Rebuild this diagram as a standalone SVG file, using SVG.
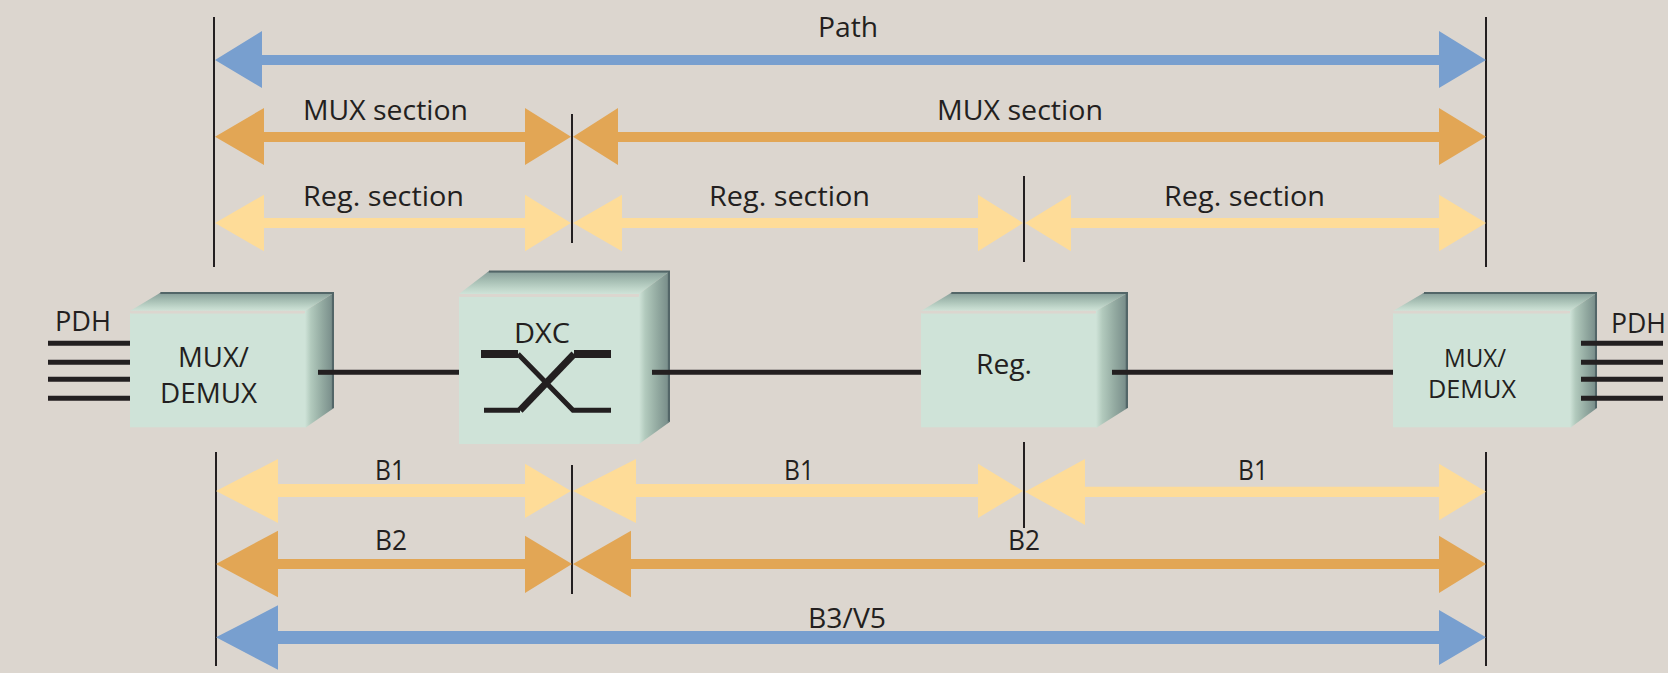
<svg xmlns="http://www.w3.org/2000/svg" width="1668" height="673" viewBox="0 0 1668 673">
<style>
text{font-family:"Open Sans","Noto Sans","Liberation Sans",sans-serif;font-size:28px;fill:#231f20}
.blue{fill:#789fcf}.orange{fill:#e2a655}.yellow{fill:#fedc98}
.v{stroke:#231f20;stroke-width:2;fill:none}
.w{stroke:#231f20;stroke-width:5;fill:none}
.front{fill:#cfe3d8}.strip{fill:#dcd6cf}.top{fill:url(#gt)}.side{fill:url(#gs)}
.edge{stroke:#536668;stroke-width:2;fill:none}
</style>
<defs>
<linearGradient id="gt" x1="0" y1="0" x2="0" y2="1"><stop offset="0" stop-color="#5f7375"/><stop offset=".1" stop-color="#8ea59f"/><stop offset=".45" stop-color="#a8c0b5"/><stop offset=".8" stop-color="#c2d8cc"/><stop offset="1" stop-color="#cfe3d8"/></linearGradient>
<linearGradient id="gs" x1="0" y1="0" x2="1" y2="0"><stop offset="0" stop-color="#cfe3d8"/><stop offset=".2" stop-color="#b2cabd"/><stop offset=".6" stop-color="#92a9a0"/><stop offset=".9" stop-color="#7c918d"/><stop offset="1" stop-color="#536668"/></linearGradient>
</defs>
<rect width="1668" height="673" fill="#dcd6cf"/>
<g id="connectors">
<g id="guides">
<path class="v" d="M214 17V267M572 114V243M1024 176V262M1486 17V267M216 452V666M572 465V594M1024 442V528M1486 452V666"/>
</g>
<g id="links">
<path class="w" d="M318 372.3H459M652 372.3H921M1112 372.3H1393"/>
<path class="w" d="M48 343.3H130M48 362.3H130M48 379.3H130M48 398.3H130M1581 343.3H1663M1581 362.3H1663M1581 379.3H1663M1581 398.3H1663"/>
</g>
<g id="arrows">
<polygon class="blue" points="215,60 262,31 262,55 1439,55 1439,31 1486,60 1439,88 1439,65 262,65 262,88"/>
<polygon class="orange" points="215,136.7 264,108 264,132 525,132 525,108 571,136.7 525,165 525,142 264,142 264,165"/>
<polygon class="orange" points="573,136.7 618,108 618,132 1439,132 1439,108 1486,136.7 1439,165 1439,142 618,142 618,165"/>
<polygon class="yellow" points="215,223 264,194.7 264,218 525,218 525,194.7 571,223 525,251.3 525,228 264,228 264,251.3"/>
<polygon class="yellow" points="573,223 622,194.7 622,218 978,218 978,194.7 1023,223 978,251.3 978,228 622,228 622,251.3"/>
<polygon class="yellow" points="1025,223 1071,194.7 1071,218 1439,218 1439,194.7 1486,223 1439,251.3 1439,228 1071,228 1071,251.3"/>
<polygon class="yellow" points="216,491 278,459 278,484 525,484 525,463.7 571,491 525,518 525,497 278,497 278,523"/>
<polygon class="yellow" points="573,491 636,459 636,484 978,484 978,463.7 1023,491 978,518 978,497 636,497 636,523"/>
<polygon class="yellow" points="1025,491.7 1085,459 1085,486.7 1439,486.7 1439,463.7 1486,491.7 1439,520.3 1439,497 1085,497 1085,525"/>
<polygon class="orange" points="216,564 278,530.7 278,559 525,559 525,535.7 572,564 525,593 525,569 278,569 278,597.3"/>
<polygon class="orange" points="573,564 631,530.7 631,559 1439,559 1439,535.7 1486,564 1439,593 1439,569 631,569 631,597.3"/>
<polygon class="blue" points="216,637.3 278,605.3 278,631 1439,631 1439,610 1486,637.3 1439,665 1439,644 278,644 278,669.7"/>
</g>
<g id="labels">
<text x="818" y="36.500" textLength="60" lengthAdjust="spacingAndGlyphs">Path</text>
<text x="303" y="120" textLength="165" lengthAdjust="spacingAndGlyphs">MUX section</text>
<text x="937" y="120" textLength="166" lengthAdjust="spacingAndGlyphs">MUX section</text>
<text x="303" y="206" textLength="161" lengthAdjust="spacingAndGlyphs">Reg. section</text>
<text x="709" y="206" textLength="161" lengthAdjust="spacingAndGlyphs">Reg. section</text>
<text x="1164" y="206" textLength="161" lengthAdjust="spacingAndGlyphs">Reg. section</text>
<text x="375" y="480" textLength="30" lengthAdjust="spacingAndGlyphs">B1</text>
<text x="784" y="480" textLength="30" lengthAdjust="spacingAndGlyphs">B1</text>
<text x="1238" y="480" textLength="30" lengthAdjust="spacingAndGlyphs">B1</text>
<text x="375" y="550" textLength="32" lengthAdjust="spacingAndGlyphs">B2</text>
<text x="1008" y="550" textLength="32" lengthAdjust="spacingAndGlyphs">B2</text>
<text x="808" y="628" textLength="78" lengthAdjust="spacingAndGlyphs">B3/V5</text>
<text x="55" y="331" textLength="56" lengthAdjust="spacingAndGlyphs">PDH</text>
<text x="1611" y="333" textLength="55" lengthAdjust="spacingAndGlyphs">PDH</text>
</g>
</g>
<g id="mux-left">
<polygon class="top" points="130,311 160.400,292.700 334,292.700 305,311"/>
<polygon class="side" points="305,311 334,292.700 334,408 305,428"/>
<path class="edge" d="M160.400 293H333V408"/>
<rect class="front" x="130" y="313.300" width="175" height="114"/>
<rect class="strip" x="131" y="310.700" width="173" height="2.600"/>
<text x="178" y="367" textLength="71" lengthAdjust="spacingAndGlyphs">MUX/</text>
<text x="160" y="403" textLength="97" lengthAdjust="spacingAndGlyphs">DEMUX</text>
<path class="w" d="M318 372.3H334"/>
</g>
<g id="dxc">
<polygon class="top" points="459,294 489,271 670,271 639,294"/>
<polygon class="side" points="639,294 670,271 670,421.700 639,444"/>
<path class="edge" d="M489 271.500H669V421"/>
<rect class="front" x="459" y="296.700" width="180" height="147.300"/>
<rect class="strip" x="460" y="294" width="178" height="2.700"/>
<text x="514" y="343" textLength="56" lengthAdjust="spacingAndGlyphs">DXC</text>
<path d="M481 354H518M574 354H611" fill="none" stroke="#231f20" stroke-width="8"/>
<path class="w" d="M484 410.300H520M518 354L573 410.300H611"/>
<path d="M520 410.300L574 354" fill="none" stroke="#231f20" stroke-width="7"/>
<path class="w" d="M652 372.3H670"/>
</g>
<g id="reg">
<polygon class="top" points="921,311 951.400,292.700 1127.700,292.700 1096,311"/>
<polygon class="side" points="1096,311 1127.700,292.700 1127.700,408 1096,428"/>
<path class="edge" d="M951.400 293H1127V408"/>
<rect class="front" x="921" y="313.300" width="175" height="114"/>
<rect class="strip" x="922" y="310.700" width="173" height="2.600"/>
<text x="976" y="374" textLength="56" lengthAdjust="spacingAndGlyphs">Reg.</text>
<path class="w" d="M1112 372.3H1128"/>
</g>
<g id="mux-right">
<polygon class="top" points="1393,311 1424,292.700 1597,292.700 1570,311"/>
<polygon class="side" points="1570,311 1597,292.700 1597,408 1570,428"/>
<path class="edge" d="M1424 293H1596V408"/>
<rect class="front" x="1393" y="313.300" width="177" height="114"/>
<rect class="strip" x="1394" y="310.700" width="173" height="2.600"/>
<text x="1444" y="367.300" style="font-size:26px" textLength="62" lengthAdjust="spacingAndGlyphs">MUX/</text>
<text x="1428" y="398.300" style="font-size:26px" textLength="88" lengthAdjust="spacingAndGlyphs">DEMUX</text>
<path class="w" d="M1581 343.3H1597M1581 362.3H1597M1581 379.3H1597M1581 398.3H1597"/>
</g>
</svg>
